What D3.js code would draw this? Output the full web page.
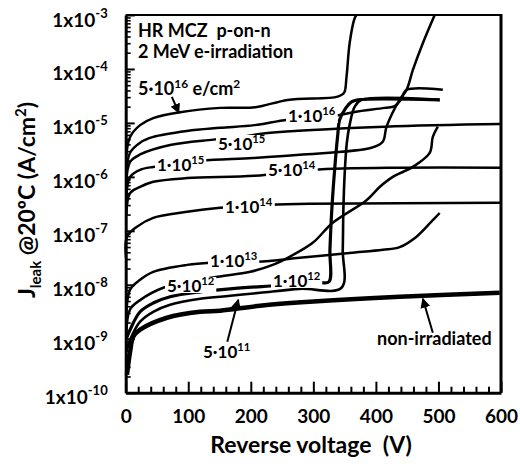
<!DOCTYPE html>
<html>
<head>
<meta charset="utf-8">
<script src="https://cdn.jsdelivr.net/npm/d3@7"></script>
<style>
  body { margin: 0; background: #fff; }
  svg { display: block; font-family: Lato, "Open Sans", sans-serif; font-weight: 700; }
</style>
</head>
<body>
<svg id="chart" width="520" height="468"></svg>
<script>
// Leakage current density J (A/cm²) vs reverse voltage V (V), one curve per e- fluence
const xTickValues = [0, 100, 200, 300, 400, 500, 600];
const yDecades = [-10, -9, -8, -7, -6, -5, -4, -3];

const curve5e16 = [[1,2.5e-6],[7,5.5e-6],[23,9.1e-6],[44,1.23e-5],[87,1.58e-5],[151,1.9e-5],[207,1.95e-5],[259,2.67e-5],[339,3.07e-5],[349,3.6e-5],[353,7.1e-5],[358,3.0e-4],[366,8.7e-4],[369,1.0e-3]];
const curve1e16 = [[1,1.26e-6],[7,2.8e-6],[23,4.3e-6],[44,5.5e-6],[98,7.1e-6],[151,8.1e-6],[206,9.1e-6],[259,1.15e-5],[334,1.35e-5],[366,1.6e-5],[414,1.9e-5],[430,2.05e-5],[440,2.7e-5],[449,4.1e-5],[507,4.1e-5]];
const curve5e15 = [[1,8e-7],[7,1.9e-6],[23,2.6e-6],[71,3.9e-6],[140,4.9e-6],[183,5.5e-6],[227,6.5e-6],[414,8.5e-6],[600,9.5e-6]];
const curve1e15 = [[1,4e-7],[7,1.0e-6],[23,1.35e-6],[44,1.53e-6],[87,1.74e-6],[122,2.0e-6],[203,2.24e-6],[278,2.57e-6],[393,3.47e-6],[411,4.47e-6],[417,8.5e-6],[438,2.7e-5],[449,4.1e-5],[459,9.5e-5],[475,3.0e-4],[494,1.0e-3]];
const curve5e14 = [[1,2e-7],[7,5.0e-7],[23,6.5e-7],[44,8.1e-7],[98,9.5e-7],[206,1.05e-6],[299,1.35e-6],[438,1.48e-6],[600,1.48e-6]];
const curve1e14 = [[0.5,3.2e-8],[2,7.8e-8],[18,1.19e-7],[44,1.74e-7],[98,2.25e-7],[151,2.67e-7],[230,3.03e-7],[294,3.16e-7],[600,3.3e-7]];
const curve1e13 = [[1,2.5e-9],[7,8.1e-9],[23,1.24e-8],[44,1.74e-8],[98,2.34e-8],[135,2.57e-8],[210,2.67e-8],[278,3.16e-8],[358,3.9e-8],[411,4.47e-8],[438,5.0e-8],[465,7.8e-8],[491,1.58e-7],[502,2.14e-7]];
const curve5e12 = [[1,1.26e-9],[7,3.5e-9],[23,5.2e-9],[60,8.8e-9],[103,1.14e-8],[147,1.41e-8],[199,1.74e-8],[235,2.34e-8],[262,3.3e-8],[299,6.0e-8],[331,1.41e-7],[385,3.7e-7],[406,6.5e-7],[427,1.0e-6],[459,1.53e-6],[486,2.78e-6],[491,5.5e-6],[499,8.5e-6]];
const curve1e12 = [[1,1.0e-9],[7,1.47e-9],[23,3.16e-9],[44,4.6e-9],[71,6.0e-9],[119,7.4e-9],[167,8.4e-9],[231,9.5e-9],[310,1.09e-8],[325,1.14e-8],[326.5,4.4e-8],[329.5,2.45e-7],[334,1.35e-6],[339,6.0e-6],[342,1.14e-5],[352,1.9e-5],[361,2.45e-5],[371,2.67e-5],[502,2.67e-5]];
const curve5e11 = [[1,6.0e-10],[7,9.6e-10],[23,2.07e-9],[44,3.16e-9],[71,4.27e-9],[119,5.5e-9],[167,6.25e-9],[215,7.1e-9],[278,8.4e-9],[345,8.8e-9],[347,4.4e-8],[348,2.45e-7],[350,1.09e-6],[353.5,4.27e-6],[358,9.2e-6],[366,1.98e-5],[377,2.67e-5],[502,2.67e-5]];
const curveNonIrr = [[2,2.15e-10],[7,5.7e-10],[12,1.09e-9],[23,1.47e-9],[66,2.45e-9],[119,3.16e-9],[151,3.3e-9],[215,4.1e-9],[294,4.84e-9],[438,6.0e-9],[598,7.1e-9]];

const curves = [curve5e16, curve1e16, curve5e15, curve1e15, curve5e14, curve1e14,
                curve1e13, curve5e12, curve1e12, curve5e11, curveNonIrr];
const strokeWidths = [2.5, 2.5, 2.5, 2.5, 2.5, 2.5, 2.5, 2.5, 3.2, 2.6, 4.5];

const svg = d3.select("#chart");
const x = d3.scaleLinear().domain([0, 600]).range([125.7, 501]);
const y = d3.scaleLog().domain([1e-10, 1e-3]).range([392.7, 15]);
const fontFamily = "Lato, 'Open Sans', sans-serif";

// ---- x axis (ticks point into the plot) ----
const xMinor = d3.range(20, 600, 20).filter(v => v % 100 !== 0);
svg.append("g")
  .attr("transform", `translate(0,${y.range()[0]})`)
  .call(d3.axisBottom(x).tickValues(xMinor).tickSizeInner(-6).tickSizeOuter(0).tickFormat(""))
  .call(g => g.select(".domain").remove())
  .call(g => g.selectAll(".tick line").attr("stroke-width", 2));

svg.append("g")
  .attr("transform", `translate(0,${y.range()[0]})`)
  .call(d3.axisBottom(x).tickValues(xTickValues).tickSizeInner(-11).tickSizeOuter(0).tickPadding(17))
  .call(g => g.select(".domain").attr("stroke-width", 3))
  .call(g => g.selectAll(".tick line").attr("stroke-width", 2))
  .call(g => g.attr("font-size", 19).attr("font-family", fontFamily).attr("font-weight", 700));

// ---- y axis (log, ticks inward) ----
const yMajor = yDecades.map(d => Math.pow(10, d));
const yMinor = [];
yDecades.slice(0, -1).forEach(d => { for (let k = 2; k <= 9; k++) yMinor.push(k * Math.pow(10, d)); });

svg.append("g")
  .attr("transform", `translate(${x.range()[0]},0)`)
  .call(d3.axisLeft(y).tickValues(yMinor).tickSizeInner(-5).tickSizeOuter(0).tickFormat(""))
  .call(g => g.select(".domain").remove())
  .call(g => g.selectAll(".tick line").attr("stroke-width", 1.6));

svg.append("g")
  .attr("transform", `translate(${x.range()[0]},0)`)
  .call(d3.axisLeft(y).tickValues(yMajor).tickSizeInner(-9).tickSizeOuter(0).tickFormat(() => ""))
  .call(g => g.select(".domain").attr("stroke-width", 3))
  .call(g => g.selectAll(".tick line").attr("stroke-width", 2))
  .call(g => g.attr("font-size", 19).attr("font-family", fontFamily).attr("font-weight", 700))
  .call(g => g.selectAll(".tick text").each(function (d) {
    const e = Math.round(Math.log10(d));
    const t = d3.select(this).attr("x", -18).attr("dy", null).attr("y", 11).text(null);
    t.append("tspan").text("1x10");
    t.append("tspan").attr("dy", -9).attr("font-size", 13).text(String(e));
  }));

// top and right frame
svg.append("line").attr("x1", x(0)).attr("x2", x(600)).attr("y1", y(1e-3)).attr("y2", y(1e-3))
  .attr("stroke", "#000").attr("stroke-width", 2);
svg.append("line").attr("x1", x(600)).attr("x2", x(600)).attr("y1", y(1e-3) - 1).attr("y2", y(1e-10))
  .attr("stroke", "#000").attr("stroke-width", 3);

// ---- curves ----
const line = d3.line()
  .x(d => x(d[0]))
  .y(d => y(d[1]))
  .curve(d3.curveCatmullRom.alpha(0.5));

svg.append("g").selectAll("path")
  .data(curves)
  .join("path")
  .attr("d", line)
  .attr("fill", "none")
  .attr("stroke", "#000")
  .attr("stroke-width", (d, i) => strokeWidths[i])
  .attr("stroke-linejoin", "round");

// ---- labels ----
const defs = svg.append("defs");
defs.append("marker")
  .attr("id", "head").attr("viewBox", "0 0 10 10").attr("refX", 9).attr("refY", 5)
  .attr("markerWidth", 10).attr("markerHeight", 10).attr("markerUnits", "userSpaceOnUse")
  .attr("orient", "auto")
  .append("path").attr("d", "M0,0 L10,5 L0,10 Z").attr("fill", "#000");

function richText(g, px, py, parts, size) {
  const t = g.append("text").attr("x", px).attr("y", py).attr("font-size", size)
    .attr("font-family", fontFamily).attr("font-weight", 700).attr("fill", "#000");
  let raised = 0;
  parts.forEach(p => {
    const sp = t.append("tspan").text(p.t);
    if (p.sup) { sp.attr("dy", -7 - raised).attr("font-size", size * 0.66); raised = -7; }
    else if (p.sub) { sp.attr("dy", 5 - raised).attr("font-size", size * 0.66); raised = 5; }
    else if (raised !== 0) { sp.attr("dy", -raised); raised = 0; }
  });
  return t;
}

// fluence labels sitting on their curves (left x, baseline y)
const inlineLabels = [
  { exp: "16", mant: "1", lx: 288, ly: 122 },
  { exp: "15", mant: "5", lx: 218, ly: 150 },
  { exp: "15", mant: "1", lx: 157, ly: 171 },
  { exp: "14", mant: "5", lx: 268, ly: 176 },
  { exp: "14", mant: "1", lx: 225, ly: 213 },
  { exp: "13", mant: "1", lx: 210, ly: 267 },
  { exp: "12", mant: "5", lx: 167, ly: 292 },
  { exp: "12", mant: "1", lx: 273, ly: 287 }
];
const labelLayer = svg.append("g");
inlineLabels.forEach(l => {
  const bg = labelLayer.append("rect").attr("fill", "#fff");
  const t = richText(labelLayer, l.lx, l.ly, [{ t: l.mant + "·10" }, { t: l.exp, sup: true }], 17);
  const b = t.node().getBBox();
  bg.attr("x", b.x - 2).attr("width", b.width + 4).attr("y", l.ly - 15).attr("height", 16);
});

// free labels
richText(svg, 138, 37, [{ t: "HR MCZ\u00a0 p-on-n" }], 18);
richText(svg, 138, 58, [{ t: "2 MeV e-irradiation" }], 18);
richText(svg, 138, 95, [{ t: "5·10" }, { t: "16", sup: true }, { t: " e/cm" }, { t: "2", sup: true }], 18);
richText(svg, 203, 358, [{ t: "5·10" }, { t: "11", sup: true }], 17);
richText(svg, 377, 345, [{ t: "non-irradiated" }], 18);

// arrows pointing at curves (tip in data units, tail offset in px)
const arrows = [
  { v: 85, j: 1.53e-5, dx: -7, dy: -16 },
  { v: 180, j: 5.3e-9, dx: -11, dy: 42 },
  { v: 475, j: 5.5e-9, dx: 10, dy: 34 }
];
arrows.forEach(a => {
  const tx = x(a.v), ty = y(a.j);
  svg.append("line").attr("x1", tx + a.dx).attr("y1", ty + a.dy).attr("x2", tx).attr("y2", ty)
    .attr("stroke", "#000").attr("stroke-width", 2).attr("marker-end", "url(#head)");
});

// axis titles
svg.append("text").attr("x", 311).attr("y", 453).attr("text-anchor", "middle")
  .attr("font-size", 23).attr("font-family", fontFamily).attr("font-weight", 700)
  .text("Reverse voltage\u00a0 (V)");

const yTitle = svg.append("text").attr("transform", "translate(35,200) rotate(-90)")
  .attr("text-anchor", "middle").attr("font-size", 23)
  .attr("font-family", fontFamily).attr("font-weight", 700);
yTitle.append("tspan").text("J");
yTitle.append("tspan").attr("dy", 6).attr("font-size", 15).text("leak");
yTitle.append("tspan").attr("dy", -6).text(" @20ºC (A/cm");
yTitle.append("tspan").attr("dy", -9).attr("font-size", 15).text("2");
yTitle.append("tspan").attr("dy", 9).text(")");
</script>
</body>
</html>
